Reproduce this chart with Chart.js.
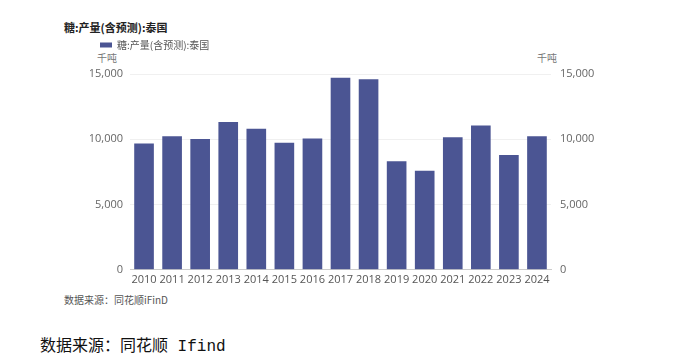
<!DOCTYPE html>
<html>
<head>
<meta charset="utf-8">
<script src="https://cdn.jsdelivr.net/npm/chart.js@4/dist/chart.umd.min.js"></script>
<style>
  body { margin: 0; background: #fff; width: 683px; height: 362px; position: relative; overflow: hidden; }
  #wrap { position: absolute; left: 0; top: 0; width: 683px; height: 289px; }
  .txt { position: absolute; white-space: nowrap; font-family: "Noto Sans CJK SC", sans-serif; }
  #title { left: 64px; top: 19px; font-size: 11px; font-weight: bold; color: #222; }
  .unit { top: 50px; font-size: 10px; color: #777; }
  #src { left: 64px; top: 292px; font-size: 10px; color: #555; }
  #cap { left: 40px; top: 332px; font-size: 16px; color: #111; font-family: "Liberation Mono", "Noto Sans CJK SC", monospace; }
</style>
</head>
<body>
<div class="txt" id="title">糖:产量(含预测):泰国</div>
<div class="txt unit" style="left:97px">千吨</div>
<div class="txt unit" style="left:537px">千吨</div>
<div id="wrap"><canvas id="chart"></canvas></div>
<div class="txt" id="src">数据来源：同花顺iFinD</div>
<div class="txt" id="cap">数据来源：同花顺 Ifind</div>
<script>
const years = ['2010', '2011', '2012', '2013', '2014', '2015', '2016', '2017', '2018', '2019', '2020', '2021', '2022', '2023', '2024'];
const output = [9670, 10230, 10020, 11330, 10800, 9740, 10050, 14720, 14590, 8310, 7590, 10150, 11050, 8800, 10230];
const yTicks = [0, 5000, 10000, 15000];
const seriesName = '糖:产量(含预测):泰国';

const font = { family: '"Open Sans", "Noto Sans CJK SC", sans-serif', size: 11 };
const fmt = v => Number(v).toLocaleString('en-US');

// extra room under the legend, so the unit labels fit above the plot
const legendGap = {
  id: 'legendGap',
  beforeInit(chart) {
    const fit = chart.legend.fit;
    chart.legend.fit = function () {
      fit.bind(chart.legend)();
      this.height += 14;
    };
  }
};

const ctx = document.getElementById('chart').getContext('2d');
new Chart(ctx, {
  type: 'bar',
  data: {
    labels: years,
    datasets: [{
      label: seriesName,
      data: output,
      backgroundColor: '#4b5593',
      borderWidth: 0,
      barPercentage: 0.7,
      categoryPercentage: 1,
      yAxisID: 'y'
    }]
  },
  options: {
    responsive: true,
    maintainAspectRatio: false,
    animation: false,
    layout: { padding: { left: 90, right: 72, top: 30, bottom: 0 } },
    plugins: {
      tooltip: { enabled: false },
      legend: {
        align: 'start',
        labels: {
          boxWidth: 12, boxHeight: 5, padding: 10,
          color: '#555',
          font: { family: '"Noto Sans CJK SC", sans-serif', size: 10 }
        }
      }
    },
    scales: {
      x: {
        grid: { display: false, drawTicks: false },
        border: { display: true, color: '#cccccc' },
        ticks: { color: '#555', font: font, padding: 3, maxRotation: 0, autoSkip: false }
      },
      y: {
        position: 'left',
        min: 0, max: 15000,
        afterFit: s => { s.width = 40; },
        afterBuildTicks: s => { s.ticks = yTicks.map(v => ({ value: v })); },
        grid: { color: '#f0f0f0', drawTicks: false },
        border: { display: false },
        ticks: { color: '#666', font: font, padding: 7, callback: fmt }
      },
      y1: {
        position: 'right',
        min: 0, max: 15000,
        afterFit: s => { s.width = 60; },
        afterBuildTicks: s => { s.ticks = yTicks.map(v => ({ value: v })); },
        grid: { display: false, drawTicks: false },
        border: { display: false },
        ticks: { color: '#666', font: font, padding: 9, callback: fmt }
      }
    }
  },
  plugins: [legendGap]
});
</script>
</body>
</html>
